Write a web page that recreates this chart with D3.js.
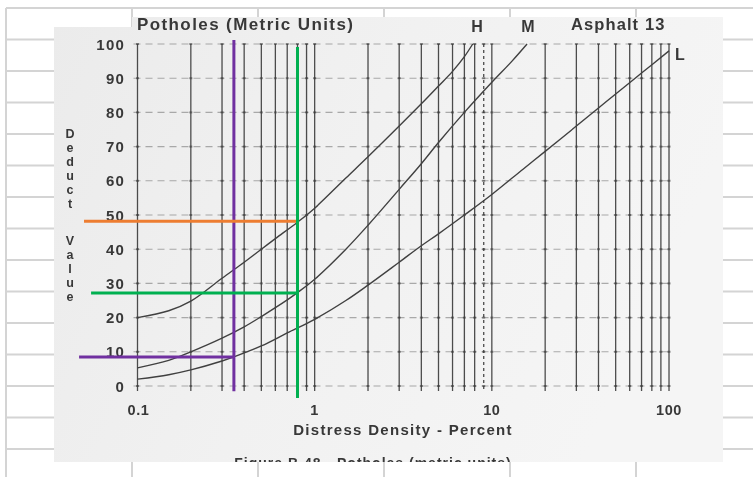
<!DOCTYPE html>
<html>
<head>
<meta charset="utf-8">
<script src="https://cdn.jsdelivr.net/npm/d3@7"></script>
<style>
  html, body { margin: 0; padding: 0; background: #ffffff; }
  svg { display: block; }
</style>
</head>
<body>
<script>
// Deduct value curves – potholes, asphalt pavement (metric units)
// Severity H (high)
const densityH = [0.1, 0.15, 0.2, 0.3, 0.4, 0.5, 0.6, 0.8, 1, 1.5, 2, 3, 4, 5, 6, 7, 7.8];
const valueH   = [20, 22, 24.8, 31.5, 36.2, 40, 43.1, 47.9, 52, 60.8, 67, 76, 82.5, 87.7, 92, 96.3, 100];
// Severity M (medium)
const densityM = [0.1, 0.15, 0.2, 0.3, 0.4, 0.5, 0.6, 0.7, 0.8, 1, 1.5, 2, 3, 4, 5, 7, 10, 13, 15.8];
const valueM   = [5.3, 7.5, 10, 14, 17.3, 20.3, 22.9, 25.2, 27.3, 31.2, 40, 47, 57.5, 65, 71.2, 80, 88.8, 95, 100];
// Severity L (low)
const densityL = [0.1, 0.15, 0.2, 0.3, 0.35, 0.5, 0.7, 1, 1.5, 2, 3, 4, 5, 7, 10, 15, 20, 30, 40, 50, 70, 100];
const valueL   = [2, 3.3, 4.7, 7.3, 8.5, 11.7, 15.5, 19.5, 25, 29.5, 36.2, 41, 44.5, 50, 56, 63.4, 68.6, 76, 81.3, 85.4, 91.5, 98];

// Axis ticks
const yTickValues = [0, 10, 20, 30, 40, 50, 60, 70, 80, 90, 100];
const xTickValues = [0.1, 1, 10, 100];
const xTickLabels = ["0.1", "1", "10", "100"];

// Read-off guide lines [density, deduct value]
const purpleVertical   = [[0.35, 101.2], [0.35, -1.5]];
const purpleHorizontal = [[0.0468, 8.5], [0.35, 8.5]];
const greenVertical    = [[0.8, 99.1], [0.8, -3.5]];
const greenHorizontal  = [[0.0547, 27.2], [0.81, 27.2]];
const orangeHorizontal = [[0.0499, 48.2], [0.8, 48.2]];

const W = 753, H = 477;
const svg = d3.select("body").append("svg").attr("width", W).attr("height", H);

// ---- worksheet cell grid behind the figure ----
const cellCols = [6, 132, 258, 384, 510, 636];
const cellRows = d3.range(8, H + 1, 31.5);
const sheet = svg.append("g").attr("stroke", "#d4d4d4").attr("stroke-width", 2);
sheet.selectAll("line.c").data(cellCols).join("line")
  .attr("x1", d => d).attr("x2", d => d).attr("y1", 8).attr("y2", H);
sheet.selectAll("line.r").data(cellRows).join("line")
  .attr("x1", 6).attr("x2", W).attr("y1", d => d).attr("y2", d => d);

// ---- scanned figure panel ----
const panelPath = "M54,27 L132,27 L132,17 L723,17 L723,462 L54,462 Z";
const defs = svg.append("defs");
const grad = defs.append("linearGradient").attr("id", "paper")
  .attr("x1", "0").attr("y1", "0").attr("x2", "1").attr("y2", "0.3");
grad.append("stop").attr("offset", "0").attr("stop-color", "#ebebeb");
grad.append("stop").attr("offset", "0.5").attr("stop-color", "#f1f1f1");
grad.append("stop").attr("offset", "1").attr("stop-color", "#f5f5f5");
defs.append("filter").attr("id", "soft")
  .append("feGaussianBlur").attr("stdDeviation", 0.45);
defs.append("clipPath").attr("id", "panelClip")
  .append("path").attr("d", panelPath);

svg.append("path").attr("d", panelPath).attr("fill", "url(#paper)");

const scan = svg.append("g").attr("clip-path", "url(#panelClip)")
  .append("g").attr("filter", "url(#soft)");

const x = d3.scaleLog().domain([0.1, 100]).range([137.5, 669]);
const y = d3.scaleLinear().domain([0, 100]).range([386, 44]);

// horizontal dashed grid
scan.append("g").selectAll("line").data(yTickValues).join("line")
  .attr("x1", x(0.1) - 4).attr("x2", x(100))
  .attr("y1", d => y(d)).attr("y2", d => y(d))
  .attr("stroke", "#8a8a8a").attr("stroke-width", 1.1)
  .attr("stroke-dasharray", "7,5").attr("opacity", 0.7);

// vertical log grid
const xGrid = x.ticks();
scan.append("g").selectAll("line").data(xGrid).join("line")
  .attr("x1", d => x(d)).attr("x2", d => x(d))
  .attr("y1", y(100)).attr("y2", y(0) + 5)
  .attr("stroke", "#2e2e2e")
  .attr("stroke-width", 1.3)
  .attr("stroke-dasharray", d => Math.abs(d - 9) < 1e-9 ? "3,3" : null)
  .attr("opacity", 0.85);

// small marks where grid lines cross
const crossings = [];
xGrid.forEach(gx => yTickValues.forEach(gy => crossings.push([gx, gy])));
scan.append("g").selectAll("rect").data(crossings).join("rect")
  .attr("x", d => x(d[0]) - 1.5).attr("y", d => y(d[1]) - 1)
  .attr("width", 3).attr("height", 2)
  .attr("fill", "#3a3a3a").attr("opacity", 0.6);

// deduct curves
const line = d3.line().x(d => x(d[0])).y(d => y(d[1])).curve(d3.curveCatmullRom.alpha(0.5));
const series = [
  d3.zip(densityH, valueH),
  d3.zip(densityM, valueM),
  d3.zip(densityL, valueL)
];
scan.append("g").selectAll("path").data(series).join("path")
  .attr("d", line)
  .attr("fill", "none")
  .attr("stroke", "#404040")
  .attr("stroke-width", 1.4);

// text in the scanned figure
const ink = "#383838";
const font = "'Liberation Sans', Arial, Helvetica, sans-serif";
function label(txt, px, py, size, anchor, spacing) {
  return scan.append("text").text(txt)
    .attr("x", px).attr("y", py)
    .attr("font-family", font).attr("font-weight", "bold")
    .attr("font-size", size).attr("fill", ink)
    .attr("letter-spacing", spacing || 0)
    .attr("text-anchor", anchor || "start");
}

// y tick labels
scan.append("g").selectAll("text").data(yTickValues).join("text")
  .text(d => d)
  .attr("x", 125).attr("y", d => y(d) + 5.5)
  .attr("text-anchor", "end")
  .attr("letter-spacing", 1.2)
  .attr("font-family", font).attr("font-weight", "bold")
  .attr("font-size", 15).attr("fill", ink);

// x tick labels
scan.append("g").selectAll("text").data(xTickValues).join("text")
  .text((d, i) => xTickLabels[i])
  .attr("x", d => x(d) + (d === 0.1 ? 1 : 0)).attr("y", 415)
  .attr("text-anchor", "middle")
  .attr("letter-spacing", 0.6)
  .attr("font-family", font).attr("font-weight", "bold")
  .attr("font-size", 14.5).attr("fill", ink);

label("Distress Density - Percent", 403, 435, 15, "middle", 1.3);
label("Potholes (Metric Units)", 137, 29.5, 17, "start", 1.4);
label("Asphalt 13", 571, 30, 16.5, "start", 1.1);
label("H", 477, 32, 16, "middle");
label("M", 528, 32, 16, "middle");
label("L", 680, 60, 16, "middle");
label("Figure B.48 - Potholes (metric units)", 373, 468, 14, "middle", 1);

// vertical axis title, letters stacked upright
const yTitleWords = ["Deduct", "Value"];
const yTitleTop = [127, 234];
scan.append("g").selectAll("text").data(yTitleWords).join("text")
  .text(d => d)
  .attr("x", 70).attr("y", (d, i) => yTitleTop[i])
  .style("writing-mode", "vertical-rl")
  .style("text-orientation", "upright")
  .attr("font-family", font).attr("font-weight", "bold")
  .attr("font-size", 12.5).attr("fill", ink);

// ---- coloured read-off lines drawn over the figure ----
const guideLine = d3.line().x(d => x(d[0])).y(d => y(d[1]));
const guides = [
  [purpleVertical, "#7030a0"],
  [purpleHorizontal, "#7030a0"],
  [orangeHorizontal, "#ed7d31"],
  [greenVertical, "#00b050"],
  [greenHorizontal, "#00b050"]
];
svg.append("g").selectAll("path").data(guides).join("path")
  .attr("d", d => guideLine(d[0]))
  .attr("stroke", d => d[1])
  .attr("stroke-width", 3)
  .attr("fill", "none");
</script>
</body>
</html>
